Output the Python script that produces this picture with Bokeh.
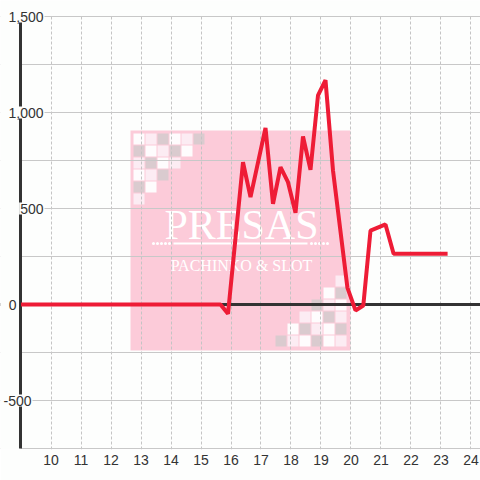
from bokeh.plotting import figure
from bokeh.models import FixedTicker, Range1d, Label, Span, BoxAnnotation
from bokeh.core.properties import value
from bokeh.embed import file_html
from bokeh.resources import INLINE

# ---- data ----
hours = [9.0, 15.65, 15.9, 16.4, 16.65, 17.15, 17.4, 17.65, 17.9, 18.15, 18.4,
         18.65, 18.9, 19.15, 19.4, 19.88, 20.15, 20.41, 20.65, 21.15, 21.42, 23.22]
diff = [0, 0, -48, 741, 559, 920, 524, 715, 637, 478, 875,
        701, 1089, 1168, 698, 88, -31, -5, 385, 417, 264, 264]

x_ticks = [10, 11, 12, 13, 14, 15, 16, 17, 18, 19, 20, 21, 22, 23, 24]
y_ticks = [1500, 1000, 500, 0, -500]
y_tick_labels = ["1,500", "1,000", "500", "0", "-500"]
y_grid = [-750, -500, -250, 250, 500, 750, 1000, 1250, 1500]

# ---- style ----
BG = "#fdfefd"
RED = "#ee1c36"
TXT = "#333333"
label_offsets = [24, 24, 24, -3, 12]

# axis bounds of the chart area, and the visible frame (which also holds the labels)
X0, X1 = 8.9833, 24.3167
Y0, Y1 = -750, 1500
PX_X = 30.0      # px per hour
PX_Y = 0.192     # px per unit

p = figure(width=480, height=480,
           x_range=Range1d(X0 - 20 / PX_X, X1),
           y_range=Range1d(Y0 - 1 / PX_Y, Y1 + 16 / PX_Y),
           output_backend="svg", toolbar_location=None, y_axis_location=None,
           min_border_left=0, min_border_right=0, min_border_top=0, min_border_bottom=31,
           background_fill_color=BG, border_fill_color=BG, outline_line_color=None)

# ---- watermark (decorative logo, positioned in pixels of the picture) ----
def fx(px):
    return X0 + (px - 20) / PX_X

def fy(py):
    return Y1 - (py - 16) / PX_Y

PINK = "#fccbd9"
COL = {"W": "#fefcfd", "L": "#fcecf3", "G": "#dacbcf"}
tl_pattern = ["WLGWLG", "GWLGW", "LGWL", "WLG", "GW", "L"]
br_pattern = ["LWGWLG", "GWLGW", "LGWL", "WLG", "GW", "L"]

p.quad(left=[fx(130)], right=[fx(350)], top=[fy(130)], bottom=[fy(350)],
       fill_color=PINK, line_color=None, level="image")

ql, qr, qt, qb, qc = [], [], [], [], []
for r, row in enumerate(tl_pattern):
    for c, code in enumerate(row):
        lx, ty = 133 + 12 * c, 133 + 12 * r
        ql.append(fx(lx)); qr.append(fx(lx + 11)); qt.append(fy(ty)); qb.append(fy(ty + 11))
        qc.append(COL[code])
for r, row in enumerate(br_pattern):
    for c, code in enumerate(row):
        lx, ty = 335 - 12 * c, 335 - 12 * r
        ql.append(fx(lx)); qr.append(fx(lx + 11)); qt.append(fy(ty)); qb.append(fy(ty + 11))
        qc.append(COL[code])
p.quad(left=ql, right=qr, top=qt, bottom=qb, fill_color=qc, line_color=None, level="image")

p.text(x=[fx(241)], y=[fy(224)], text=["PRESAS"], text_font=value("Liberation Serif"),
       text_font_size="42px", text_color="white", text_align="center",
       text_baseline="middle", level="image")
p.text(x=[fx(241)], y=[fy(265)], text=["PACHINKO & SLOT"], text_font=value("Liberation Serif"),
       text_font_size="16px", text_color="white", text_align="center",
       text_baseline="middle", level="image")
dots_px = [153, 157, 161, 165, 169, 311, 315, 319, 323, 327]
p.scatter(x=[fx(v) for v in dots_px], y=[fy(243)] * len(dots_px), size=3,
          color="white", line_color=None, level="image")
p.segment(x0=[fx(173)], y0=[fy(243)], x1=[fx(307)], y1=[fy(243)],
          line_color="white", line_width=2, level="image")

# ---- grids ----
p.xgrid.ticker = FixedTicker(ticks=x_ticks)
p.xgrid.grid_line_color = "#c4c4c4"
p.xgrid.grid_line_dash = "3 2"
p.xgrid.grid_line_width = 1
p.ygrid.ticker = FixedTicker(ticks=y_grid)
p.ygrid.grid_line_color = "#c8c8c8"
p.ygrid.grid_line_width = 1

# zero line
p.add_layout(Span(location=0, dimension="width", line_color=TXT, line_width=3, level="underlay"))

# keep the margin strips (left of the axis, above the top line) clean
p.add_layout(BoxAnnotation(right=X0, fill_color=BG, fill_alpha=1, line_color=None, level="underlay"))
p.add_layout(BoxAnnotation(bottom=Y1 + 1 / PX_Y, fill_color=BG, fill_alpha=1, line_color=None, level="underlay"))

# ---- axes ----
xa = p.xaxis[0]
xa.ticker = FixedTicker(ticks=x_ticks)
xa.axis_line_color = None
xa.major_tick_line_color = None
xa.minor_tick_line_color = None
xa.major_tick_out = 0
xa.major_tick_in = 0
xa.major_label_standoff = 5
xa.major_label_text_font = "Liberation Sans"
xa.major_label_text_font_size = "14px"
xa.major_label_text_color = TXT

# y axis line
p.segment(x0=[X0], y0=[Y0], x1=[X0], y1=[Y1], line_color=TXT, line_width=3)

# ---- series ----
p.line(hours, diff, line_color=RED, line_width=4)

# ---- y tick labels (sit over the axis line, as in the reference) ----
for v, t, off in zip(y_ticks, y_tick_labels, label_offsets):
    p.add_layout(Label(x=X0, y=v, text=t, x_offset=off, text_align="right",
                       text_baseline="middle", text_font="Liberation Sans",
                       text_font_size="14px", text_color=TXT,
                       background_fill_color=BG, padding=1))

open("out.html", "w").write(file_html(p, INLINE))
